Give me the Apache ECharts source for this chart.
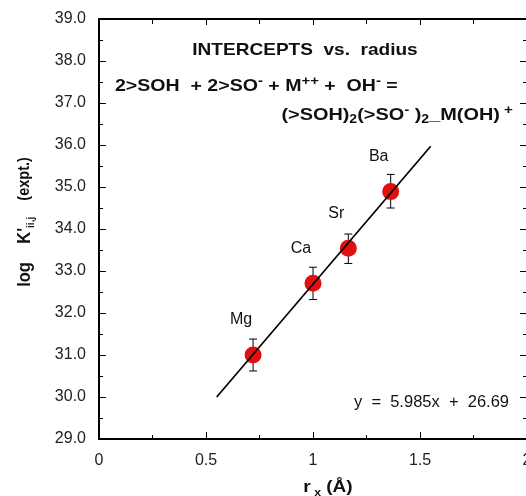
<!DOCTYPE html>
<html>
<head>
<meta charset="utf-8">
<script src="https://cdn.jsdelivr.net/npm/echarts@6/dist/echarts.min.js"></script>
<style>
html,body{margin:0;padding:0;background:#fff;}
#chart{width:526px;height:496px;}
</style>
</head>
<body>
<div id="chart"></div>
<script>
// ---- data ----
var elements = ['Mg', 'Ca', 'Sr', 'Ba'];
var radius = [0.72, 1.00, 1.165, 1.363];
var logK = [31.0, 32.71, 33.54, 34.89];
var errLow = [30.62, 32.32, 33.18, 34.5];
var errHigh = [31.38, 33.09, 33.88, 35.3];
var fitX = [0.55, 1.55];
var fitY = [30.0, 35.97];
var xTicks = [0, 0.5, 1, 1.5, 2];
var yTicks = [29, 30, 31, 32, 33, 34, 35, 36, 37, 38, 39];

var FONT = '"Liberation Sans", Arial, Helvetica, sans-serif';

var pointData = radius.map(function (x, i) { return { name: elements[i], value: [x, logK[i]] }; });
var errData = radius.map(function (x, i) { return [x, errLow[i], errHigh[i]]; });
var fitData = fitX.map(function (x, i) { return [x, fitY[i]]; });

var chart = echarts.init(document.getElementById('chart'), null, { renderer: 'canvas' });

function axisCommon(showLabel) {
  return {
    axisLine: { show: true, onZero: false, lineStyle: { color: '#000', width: 2 } },
    axisTick: { show: true, inside: true, length: 7, lineStyle: { color: '#000', width: 1 } },
    minorTick: { show: true, splitNumber: 2, length: 4, lineStyle: { color: '#000', width: 1 } },
    splitLine: { show: false },
    minorSplitLine: { show: false },
    axisLabel: { show: showLabel }
  };
}

var xBottom = Object.assign(axisCommon(true), {
  type: 'value', position: 'bottom', min: xTicks[0], max: xTicks[xTicks.length - 1], interval: 0.5
});
xBottom.axisLabel = { show: true, margin: 14, fontSize: 16, color: '#222', fontFamily: FONT,
  formatter: function (v) { return String(v); } };
var xTop = Object.assign(axisCommon(false), {
  type: 'value', position: 'top', min: xTicks[0], max: xTicks[xTicks.length - 1], interval: 0.5
});
xTop.axisTick = { show: true, inside: true, length: 6, lineStyle: { color: '#000', width: 1 } };
xTop.minorTick = { show: true, splitNumber: 2, length: 5, lineStyle: { color: '#000', width: 1 } };

var yLeft = Object.assign(axisCommon(true), {
  type: 'value', position: 'left', min: yTicks[0], max: yTicks[yTicks.length - 1], interval: 1
});
yLeft.axisLabel = { show: true, margin: 13, fontSize: 16, color: '#222', fontFamily: FONT,
  formatter: function (v) { return v.toFixed(1); } };
var yRight = Object.assign(axisCommon(false), {
  type: 'value', position: 'right', min: yTicks[0], max: yTicks[yTicks.length - 1], interval: 1
});

var option = {
  backgroundColor: '#fff',
  animation: false,
  grid: { left: 99, top: 19, width: 428, height: 420, containLabel: false, outerBoundsMode: 'none' },
  xAxis: [xBottom, xTop],
  yAxis: [yLeft, yRight],
  series: [
    {
      type: 'custom',
      name: 'err',
      xAxisIndex: 0, yAxisIndex: 0,
      z: 2,
      data: errData,
      renderItem: function (params, api) {
        var x = api.value(0);
        var lo = api.coord([x, api.value(1)]);
        var hi = api.coord([x, api.value(2)]);
        var hw = 4;
        var style = { stroke: '#000', lineWidth: 1 };
        return {
          type: 'group',
          children: [
            { type: 'line', shape: { x1: lo[0], y1: lo[1], x2: hi[0], y2: hi[1] }, style: style },
            { type: 'line', shape: { x1: lo[0] - hw, y1: lo[1], x2: lo[0] + hw, y2: lo[1] }, style: style },
            { type: 'line', shape: { x1: hi[0] - hw, y1: hi[1], x2: hi[0] + hw, y2: hi[1] }, style: style }
          ]
        };
      }
    },
    {
      type: 'scatter',
      z: 3,
      data: pointData,
      symbol: 'circle',
      symbolSize: 17,
      itemStyle: { color: '#e01010', opacity: 1 },
      label: {
        show: true, position: 'inside', offset: [-12, -35],
        formatter: '{b}', fontSize: 16, color: '#111', fontFamily: FONT
      }
    },
    {
      type: 'line',
      z: 4,
      data: fitData,
      symbol: 'none',
      lineStyle: { color: '#000', width: 1.7 }
    }
  ]
};

var B = 17;
var sup = { fontSize: 13, fontWeight: 'bold', fontFamily: FONT, fill: '#111', verticalAlign: 'top', lineHeight: 22 };
var sub = { fontSize: 12, fontWeight: 'bold', fontFamily: FONT, fill: '#111', verticalAlign: 'bottom', lineHeight: 22 };
var base = { fontSize: B, fontWeight: 'bold', fontFamily: FONT, fill: '#111', lineHeight: 22 };
var SX = 1.12;

option.graphic = [
  { type: 'text', x: 305, y: 50, z: 10, scaleX: SX,
    style: { text: 'INTERCEPTS  vs.  radius', font: 'bold ' + B + 'px ' + FONT, fill: '#111', align: 'center', verticalAlign: 'middle' } },
  { type: 'text', x: 115, y: 86, z: 10, scaleX: 1.15,
    style: { text: '{b|2>SOH  + 2>SO}{sp|-}{b| + M}{sp|++}{b| +  OH}{sp|-}{b| =}',
      rich: { b: base, sp: sup }, align: 'left', verticalAlign: 'middle' } },
  { type: 'text', x: 513, y: 115, z: 10, scaleX: 1.17,
    style: { text: '{b|(>SOH)}{sb|2}{b|(>SO}{sp|-}{b| )}{sb|2}{b|_M(OH)}{sp| +}',
      rich: { b: base, sp: sup, sb: sub },
      align: 'right', verticalAlign: 'middle' } },
  { type: 'text', x: 25, y: 222, rotation: Math.PI / 2, z: 10, scaleY: SX,
    style: { text: '{b|log    K\'}{sb|ii,j}{c|    (expt.)}',
      rich: { b: { fontSize: 16.5, fontWeight: 'bold', fontFamily: FONT, fill: '#111', lineHeight: 20 },
              c: { fontSize: 14.5, fontWeight: 'bold', fontFamily: FONT, fill: '#111', lineHeight: 20 },
              sb: { fontSize: 10, fontWeight: 'bold', fontFamily: FONT, fill: '#111', verticalAlign: 'bottom', lineHeight: 20 } },
      align: 'center', verticalAlign: 'middle' } },
  { type: 'text', x: 328, y: 487, z: 10, scaleX: SX,
    style: { text: '{b|r}{sb| x}{b| (Å)}',
      rich: { b: { fontSize: B, fontWeight: 'bold', fontFamily: FONT, fill: '#111', lineHeight: 22 },
              sb: { fontSize: 11, fontWeight: 'bold', fontFamily: FONT, fill: '#111', verticalAlign: 'bottom', lineHeight: 22 } },
      align: 'center', verticalAlign: 'middle' } },
  { type: 'text', x: 509, y: 402, z: 10,
    style: { text: 'y  =  5.985x  +  26.69', font: '16.5px ' + FONT, fill: '#111', align: 'right', verticalAlign: 'middle' } }
];

chart.setOption(option);
</script>
</body>
</html>
